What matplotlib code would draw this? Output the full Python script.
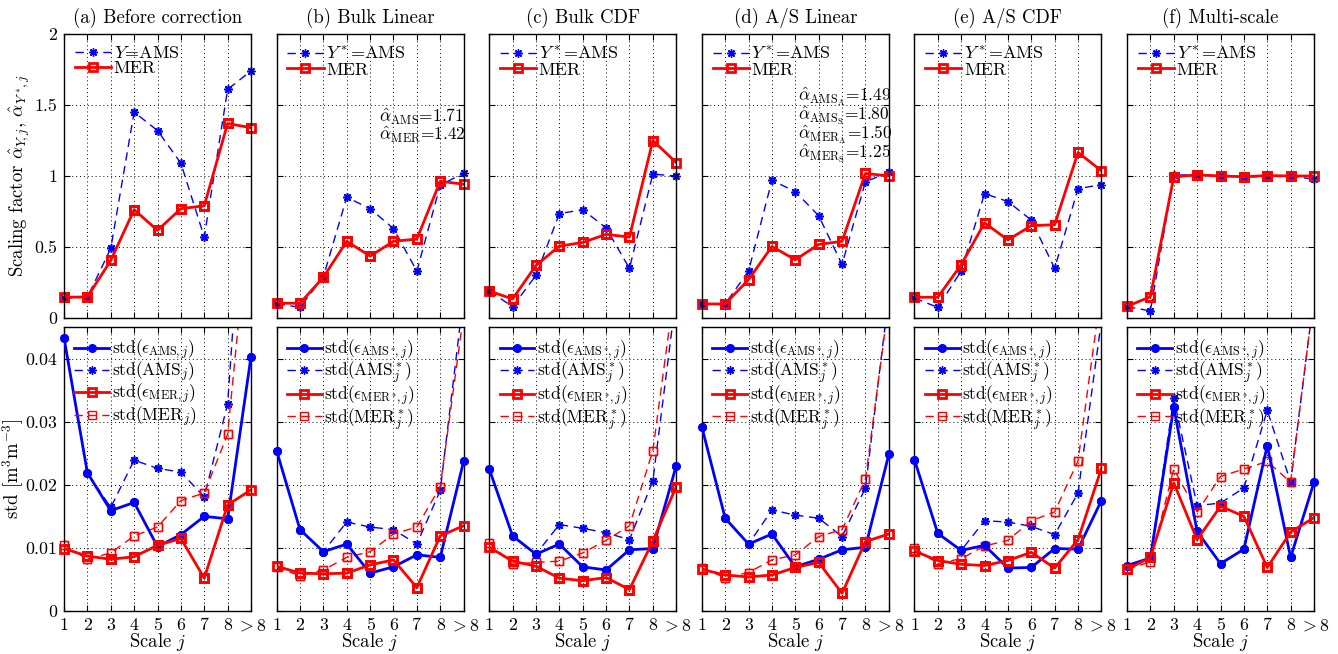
import matplotlib
matplotlib.use("Agg")
import matplotlib.pyplot as plt
import numpy as np

plt.rcParams['font.family'] = 'serif'
plt.rcParams['font.serif'] = ['cmr10', 'DejaVu Serif']
plt.rcParams['mathtext.fontset'] = 'cm'
plt.rcParams['axes.formatter.use_mathtext'] = True
plt.rcParams['axes.unicode_minus'] = False

# ---------------- data ----------------
scales = [1, 2, 3, 4, 5, 6, 7, 8, 9]
scale_labels = ['1', '2', '3', '4', '5', '6', '7', '8', r'$>8$']
titles = ['(a) Before correction', '(b) Bulk Linear', '(c) Bulk CDF',
          '(d) A/S Linear', '(e) A/S CDF', '(f) Multi-scale']

# scaling factors (top row)
alpha_ams_a = [0.14, 0.146, 0.49, 1.45, 1.32, 1.09, 0.57, 1.61, 1.74]
alpha_ams_b = [0.10, 0.075, 0.29, 0.85, 0.77, 0.63, 0.33, 0.935, 1.02]
alpha_ams_c = [0.19, 0.08, 0.30, 0.735, 0.763, 0.634, 0.35, 1.013, 1.0]
alpha_ams_d = [0.10, 0.10, 0.33, 0.97, 0.89, 0.72, 0.377, 0.96, 1.025]
alpha_ams_e = [0.14, 0.075, 0.33, 0.876, 0.82, 0.69, 0.35, 0.91, 0.94]
alpha_ams_f = [0.08, 0.05, 1.005, 1.01, 1.0, 0.995, 0.995, 1.0, 0.977]

alpha_mer_a = [0.146, 0.148, 0.405, 0.763, 0.617, 0.77, 0.79, 1.37, 1.34]
alpha_mer_b = [0.104, 0.104, 0.287, 0.54, 0.436, 0.54, 0.556, 0.963, 0.942]
alpha_mer_c = [0.19, 0.134, 0.37, 0.506, 0.532, 0.589, 0.57, 1.25, 1.095]
alpha_mer_d = [0.099, 0.099, 0.27, 0.504, 0.41, 0.518, 0.54, 1.018, 1.0]
alpha_mer_e = [0.146, 0.146, 0.375, 0.67, 0.55, 0.65, 0.657, 1.166, 1.037]
alpha_mer_f = [0.082, 0.15, 0.994, 1.008, 1.0, 0.995, 1.003, 1.0, 1.0]

# standard deviations (bottom row)
eps_ams_a = [0.0433, 0.0219, 0.0159, 0.0172, 0.0102, 0.0121, 0.0150, 0.0146, 0.0403]
eps_ams_b = [0.0254, 0.0129, 0.0094, 0.0106, 0.0060, 0.0070, 0.0089, 0.0085, 0.0237]
eps_ams_c = [0.0225, 0.0119, 0.0090, 0.0106, 0.0070, 0.0065, 0.0097, 0.0099, 0.0230]
eps_ams_d = [0.0292, 0.0147, 0.0106, 0.0122, 0.0070, 0.0082, 0.0097, 0.0101, 0.0248]
eps_ams_e = [0.0240, 0.0123, 0.0096, 0.0104, 0.0068, 0.0069, 0.0099, 0.0098, 0.0175]
eps_ams_f = [0.0072, 0.0084, 0.0323, 0.0126, 0.0075, 0.0098, 0.0262, 0.0085, 0.0204]

std_ams_a = [0.0433, 0.0219, 0.0164, 0.0239, 0.0226, 0.0220, 0.0181, 0.0328, 0.086]
std_ams_b = [0.0254, 0.0129, 0.0094, 0.0141, 0.0133, 0.0129, 0.0106, 0.0191, 0.050]
std_ams_c = [0.0225, 0.0119, 0.0090, 0.0137, 0.0131, 0.0124, 0.0113, 0.0206, 0.050]
std_ams_d = [0.0292, 0.0147, 0.0106, 0.0160, 0.0152, 0.0147, 0.0118, 0.0195, 0.050]
std_ams_e = [0.0240, 0.0123, 0.0096, 0.0143, 0.0141, 0.0134, 0.0121, 0.0187, 0.046]
std_ams_f = [0.0072, 0.0084, 0.0337, 0.0167, 0.0171, 0.0195, 0.0318, 0.0204, 0.050]

eps_mer_a = [0.0099, 0.0087, 0.0082, 0.0086, 0.0104, 0.0115, 0.0052, 0.0168, 0.0192]
eps_mer_b = [0.0071, 0.0060, 0.0059, 0.0060, 0.0073, 0.0081, 0.0037, 0.0119, 0.0135]
eps_mer_c = [0.0101, 0.0079, 0.0071, 0.0052, 0.0048, 0.0053, 0.0034, 0.0111, 0.0197]
eps_mer_d = [0.0066, 0.0057, 0.0054, 0.0057, 0.0069, 0.0077, 0.0028, 0.0110, 0.0122]
eps_mer_e = [0.0095, 0.0080, 0.0074, 0.0072, 0.0080, 0.0093, 0.0068, 0.0113, 0.0226]
eps_mer_f = [0.0066, 0.0085, 0.0203, 0.0113, 0.0166, 0.0150, 0.0069, 0.0125, 0.0148]

std_mer_a = [0.0105, 0.0082, 0.0092, 0.0119, 0.0133, 0.0175, 0.0187, 0.0280, 0.066]
std_mer_b = [0.0069, 0.0056, 0.0065, 0.0085, 0.0094, 0.0122, 0.0133, 0.0197, 0.047]
std_mer_c = [0.0108, 0.0074, 0.0077, 0.0079, 0.0092, 0.0112, 0.0135, 0.0254, 0.053]
std_mer_d = [0.0068, 0.0053, 0.0061, 0.0081, 0.0089, 0.0118, 0.0129, 0.0209, 0.049]
std_mer_e = [0.0100, 0.0075, 0.0083, 0.0103, 0.0112, 0.0143, 0.0157, 0.0238, 0.051]
std_mer_f = [0.0066, 0.0078, 0.0225, 0.0157, 0.0213, 0.0225, 0.0237, 0.0204, 0.050]

alpha_ams = [alpha_ams_a, alpha_ams_b, alpha_ams_c, alpha_ams_d, alpha_ams_e, alpha_ams_f]
alpha_mer = [alpha_mer_a, alpha_mer_b, alpha_mer_c, alpha_mer_d, alpha_mer_e, alpha_mer_f]
eps_ams = [eps_ams_a, eps_ams_b, eps_ams_c, eps_ams_d, eps_ams_e, eps_ams_f]
std_ams = [std_ams_a, std_ams_b, std_ams_c, std_ams_d, std_ams_e, std_ams_f]
eps_mer = [eps_mer_a, eps_mer_b, eps_mer_c, eps_mer_d, eps_mer_e, eps_mer_f]
std_mer = [std_mer_a, std_mer_b, std_mer_c, std_mer_d, std_mer_e, std_mer_f]

annot_b = [r'$\hat{\alpha}_{\mathrm{AMS}}$=1.71', r'$\hat{\alpha}_{\mathrm{MER}}$=1.42']
annot_d = [r'$\hat{\alpha}_{\mathrm{AMS}_\mathrm{A}}$=1.49', r'$\hat{\alpha}_{\mathrm{AMS}_\mathrm{S}}$=1.80',
           r'$\hat{\alpha}_{\mathrm{MER}_\mathrm{A}}$=1.50', r'$\hat{\alpha}_{\mathrm{MER}_\mathrm{S}}$=1.25']

top_ylim = (0, 2)
bot_ylim = (0, 0.045)
top_yticks = [0, 0.5, 1, 1.5, 2]
top_yticklabels = ['0', '0.5', '1', '1.5', '2']
bot_yticks = [0, 0.01, 0.02, 0.03, 0.04]
bot_yticklabels = ['0', '0.01', '0.02', '0.03', '0.04']

# ---------------- figure ----------------
W, H = 1338, 654
fig = plt.figure(figsize=(W / 100, H / 100), dpi=100)

left0 = 64 / W
pw = 187 / W
step = 212.6 / W
top_b = 1 - 318 / H
ph = 284 / H
bot_b = 1 - 611 / H

BLUE = (0, 0, 1)
RED = (1, 0, 0)
asterisk = (8, 2, 0)
TICK_FS = 12.8
LABEL_FS = 13.5
TITLE_FS = 13.5
LEG_TOP_FS = 13
LEG_BOT_FS = 12.5
ANN_FS = 12.5


def style_axes(ax, ylim, yticks, yticklabels, show_ylab):
    ax.set_xlim(1, 9)
    ax.set_ylim(*ylim)
    ax.set_xticks(scales)
    ax.set_yticks(yticks)
    if show_ylab:
        ax.set_yticklabels(yticklabels, fontsize=TICK_FS)
    else:
        ax.set_yticklabels([])
    ax.grid(True, color='black', linestyle=(0, (1, 3)), linewidth=0.7)
    ax.tick_params(direction='in', top=True, right=True, length=4, width=0.8, pad=5)
    for sp in ax.spines.values():
        sp.set_linewidth(1.0)


def plot_series(ax, y, ylim, **kw):
    ln, = ax.plot(scales, y, **kw)
    # markers that sit on the axes edges are allowed to overhang
    xs = [x for x, v in zip(scales, y) if ylim[0] <= v <= ylim[1]]
    vs = [v for v in y if ylim[0] <= v <= ylim[1]]
    mk = {k: v for k, v in kw.items() if k.startswith('m') or k == 'color'}
    ax.plot(xs, vs, linestyle='none', clip_on=False, zorder=ln.get_zorder(), **mk)
    return ln


for i in range(6):
    x0 = left0 + i * step
    # ---- top row ----
    ax = fig.add_axes([x0, top_b, pw, ph])
    style_axes(ax, top_ylim, top_yticks, top_yticklabels, i == 0)
    ax.set_xticklabels([])
    lab_y = r'$Y$=AMS' if i == 0 else r'$Y^*$=AMS'
    l1 = plot_series(ax, alpha_ams[i], top_ylim, color=BLUE, linestyle=(0, (6, 4)), linewidth=1.0,
                     marker=asterisk, markersize=6, markeredgewidth=1.0)
    l2 = plot_series(ax, alpha_mer[i], top_ylim, color=RED, linestyle='-', linewidth=2.0,
                     marker='s', markersize=6, markerfacecolor='none', markeredgewidth=2.0)
    ax.legend([l1, l2], [lab_y, 'MER'], loc='upper left', frameon=False, fontsize=LEG_TOP_FS,
              handlelength=2.0, handletextpad=0.15, labelspacing=0.0, borderaxespad=0.25,
              borderpad=0.35)
    ax.set_title(titles[i], fontsize=TITLE_FS, pad=8)
    if i == 0:
        ax.set_ylabel(r'Scaling factor $\hat{\alpha}_{Y\!,j}$, $\hat{\alpha}_{Y^*\!,j}$',
                      fontsize=LABEL_FS)
        ax.yaxis.set_label_coords(-0.17, 0.5)
    if i == 1:
        ax.text(5.4, 1.355, '\n'.join(annot_b), fontsize=ANN_FS, va='center', ha='left',
                linespacing=0.78)
    if i == 3:
        ax.text(5.1, 1.36, '\n'.join(annot_d), fontsize=ANN_FS, va='center', ha='left',
                linespacing=0.75)

    # ---- bottom row ----
    ax = fig.add_axes([x0, bot_b, pw, ph])
    style_axes(ax, bot_ylim, bot_yticks, bot_yticklabels, i == 0)
    ax.set_xticklabels(scale_labels, fontsize=TICK_FS)
    ax.set_xlabel(r'Scale $j$', fontsize=LABEL_FS, labelpad=-2)
    if i == 0:
        labs = [r'std($\epsilon_{\mathrm{AMS},j}$)', r'std(AMS$_j$)',
                r'std($\epsilon_{\mathrm{MER},j}$)', r'std(MER$_j$)']
    else:
        labs = [r'std($\epsilon_{\mathrm{AMS}^*\!,j}$)', r'std(AMS$_j^*$)',
                r'std($\epsilon_{\mathrm{MER}^*\!,j}$)', r'std(MER$_j^*$)']
    b1 = plot_series(ax, eps_ams[i], bot_ylim, color=BLUE, linestyle='-', linewidth=2.0,
                     marker='o', markersize=5.5, markerfacecolor=BLUE, zorder=3)
    b2 = plot_series(ax, std_ams[i], bot_ylim, color=BLUE, linestyle=(0, (6, 4)), linewidth=1.0,
                     marker=asterisk, markersize=6, markeredgewidth=1.0, zorder=2)
    r1 = plot_series(ax, eps_mer[i], bot_ylim, color=RED, linestyle='-', linewidth=2.0,
                     marker='s', markersize=6, markerfacecolor='none', markeredgewidth=2.0, zorder=3)
    r2 = plot_series(ax, std_mer[i], bot_ylim, color=RED, linestyle=(0, (6, 4)), linewidth=1.0,
                     marker='s', markersize=5.5, markerfacecolor='none', markeredgewidth=1.0, zorder=2)
    if i == 0:
        ax.set_ylabel(r'std [m$^3$m$^{-3}$]', fontsize=LABEL_FS)
        ax.yaxis.set_label_coords(-0.205, 0.5)
    ax.legend([b1, b2, r1, r2], labs, loc='upper left', frameon=False, fontsize=LEG_BOT_FS,
              handlelength=2.0, handletextpad=0.15, labelspacing=-0.1, borderaxespad=0.25,
              borderpad=0.35)

fig.savefig('out.png', dpi=100)
